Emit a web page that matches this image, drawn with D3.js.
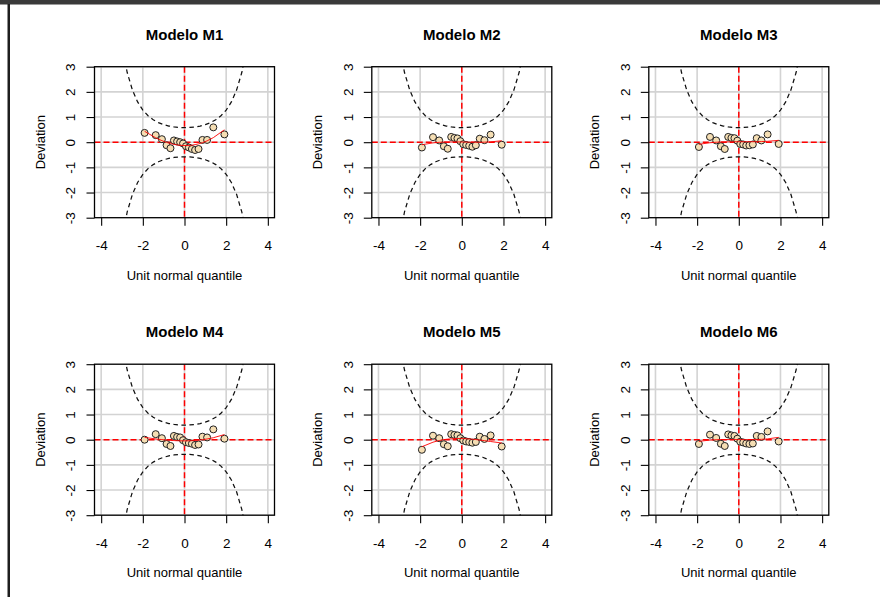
<!DOCTYPE html>
<html>
<head>
<meta charset="utf-8">
<script src="https://cdn.jsdelivr.net/npm/d3@7"></script>
<style>
  body { margin: 0; background: #fff; }
  text { font-family: "Liberation Sans", Arial, sans-serif; fill: #000; }
</style>
</head>
<body>
<svg width="880" height="597"></svg>
<script>
// unit normal quantiles of the 18 residuals (x of every worm point)
var quantiles = [-1.915, -1.383, -1.085, -0.861, -0.674, -0.508, -0.355, -0.210, -0.070,
                  0.070, 0.210, 0.355, 0.508, 0.674, 0.861, 1.085, 1.383, 1.915];

// deviations
var devM1 = [0.37, 0.28, 0.12, -0.12, -0.24, 0.07, 0.03, 0.00, -0.05, -0.16, -0.21, -0.27, -0.31, -0.27, 0.09, 0.09, 0.59, 0.31];
var devM2 = [-0.21, 0.20, 0.07, -0.16, -0.26, 0.21, 0.17, 0.15, 0.04, -0.08, -0.11, -0.14, -0.18, -0.12, 0.14, 0.08, 0.30, -0.10];
var devM3 = [-0.19, 0.21, 0.07, -0.16, -0.27, 0.21, 0.17, 0.16, 0.06, -0.07, -0.09, -0.13, -0.12, -0.09, 0.16, 0.07, 0.31, -0.07];
var devM4 = [0.00, 0.22, 0.06, -0.17, -0.25, 0.15, 0.11, 0.09, -0.02, -0.10, -0.13, -0.16, -0.21, -0.19, 0.12, 0.09, 0.41, 0.04];
var devM5 = [-0.40, 0.16, 0.06, -0.18, -0.26, 0.22, 0.19, 0.17, 0.06, -0.03, -0.07, -0.09, -0.12, -0.09, 0.12, 0.03, 0.17, -0.27];
var devM6 = [-0.17, 0.20, 0.07, -0.16, -0.25, 0.21, 0.17, 0.15, 0.04, -0.08, -0.11, -0.15, -0.17, -0.15, 0.15, 0.11, 0.33, -0.07];

var titles = ["Modelo M1", "Modelo M2", "Modelo M3", "Modelo M4", "Modelo M5", "Modelo M6"];
var deviations = [devM1, devM2, devM3, devM4, devM5, devM6];

// 95% worm plot bands (n = 18)
var bandZ = [-3, -2.75, -2.5, -2.25, -2, -1.75, -1.5, -1.25, -1, -0.75, -0.5, -0.25, 0,
             0.25, 0.5, 0.75, 1, 1.25, 1.5, 1.75, 2, 2.25, 2.5, 2.75, 3];
var bandUpper = [3.83, 2.769, 2.071, 1.599, 1.276, 1.050, 0.891, 0.777, 0.698, 0.642, 0.606, 0.586, 0.579,
                 0.586, 0.606, 0.642, 0.698, 0.777, 0.891, 1.050, 1.276, 1.599, 2.071, 2.769, 3.83];
var bandLower = [-3.83, -2.769, -2.071, -1.599, -1.276, -1.050, -0.891, -0.777, -0.698, -0.642, -0.606, -0.586, -0.579,
                 -0.586, -0.606, -0.642, -0.698, -0.777, -0.891, -1.050, -1.276, -1.599, -2.071, -2.769, -3.83];

var xTicks = [-4, -2, 0, 2, 4];
var yTicks = [-3, -2, -1, 0, 1, 2, 3];

var svg = d3.select("svg");

// window frame
svg.append("rect").attr("x", 0).attr("y", 0).attr("width", 880).attr("height", 597).attr("fill", "#fff");
svg.append("rect").attr("x", 0).attr("y", 0).attr("width", 880).attr("height", 4).attr("fill", "#3a3a3a");
svg.append("rect").attr("x", 0).attr("y", 4).attr("width", 880).attr("height", 1).attr("fill", "#9a9a9a");
svg.append("rect").attr("x", 7.5).attr("y", 4).attr("width", 2.5).attr("height", 593).attr("fill", "#1e1e1e");

var colLeft = [94.5, 371.8, 648.8],
    rowTop = [66.7, 364.2],
    boxW = 180,
    boxH = 151;

// cubic least squares fit, as the worm plot does
function cubicFit(xs, ys) {
  var A = [[0,0,0,0],[0,0,0,0],[0,0,0,0],[0,0,0,0]], b = [0,0,0,0];
  xs.forEach(function (x, k) {
    var p = [1, x, x * x, x * x * x];
    for (var i = 0; i < 4; i++) {
      b[i] += p[i] * ys[k];
      for (var j = 0; j < 4; j++) A[i][j] += p[i] * p[j];
    }
  });
  for (var c = 0; c < 4; c++) {
    for (var r = c + 1; r < 4; r++) {
      var f = A[r][c] / A[c][c];
      for (var j = c; j < 4; j++) A[r][j] -= f * A[c][j];
      b[r] -= f * b[c];
    }
  }
  var co = [0,0,0,0];
  for (var i = 3; i >= 0; i--) {
    var s = b[i];
    for (var j = i + 1; j < 4; j++) s -= A[i][j] * co[j];
    co[i] = s / A[i][i];
  }
  return xs.map(function (x) { return co[0] + co[1] * x + co[2] * x * x + co[3] * x * x * x; });
}

deviations.forEach(function (dev, idx) {
  var left = colLeft[idx % 3], top = rowTop[Math.floor(idx / 3)];
  var x = d3.scaleLinear().domain([-4.32, 4.32]).range([left, left + boxW]);
  var y = d3.scaleLinear().domain([-3, 3]).range([top + boxH, top]);
  var g = svg.append("g");

  var clipId = "clip" + idx;
  svg.append("clipPath").attr("id", clipId)
    .append("rect").attr("x", left).attr("y", top).attr("width", boxW).attr("height", boxH);
  var inner = g.append("g").attr("clip-path", "url(#" + clipId + ")");

  // grid
  inner.selectAll(".gx").data(xTicks).enter().append("line")
    .attr("x1", function (d) { return x(d); }).attr("x2", function (d) { return x(d); })
    .attr("y1", top).attr("y2", top + boxH)
    .attr("stroke", "#d3d3d3").attr("stroke-width", 1.6);
  inner.selectAll(".gy").data(yTicks).enter().append("line")
    .attr("x1", left).attr("x2", left + boxW)
    .attr("y1", function (d) { return y(d); }).attr("y2", function (d) { return y(d); })
    .attr("stroke", "#d3d3d3").attr("stroke-width", 1.6);

  // reference lines
  inner.append("line").attr("x1", left).attr("x2", left + boxW).attr("y1", y(0)).attr("y2", y(0))
    .attr("stroke", "red").attr("stroke-width", 1.5).attr("stroke-dasharray", "6,3");
  inner.append("line").attr("x1", x(0)).attr("x2", x(0)).attr("y1", top).attr("y2", top + boxH)
    .attr("stroke", "red").attr("stroke-width", 1.5).attr("stroke-dasharray", "6,3");

  // confidence bands
  var band = d3.line().x(function (d) { return x(d[0]); }).y(function (d) { return y(d[1]); });
  [bandUpper, bandLower].forEach(function (b) {
    inner.append("path").datum(d3.zip(bandZ, b)).attr("d", band)
      .attr("fill", "none").attr("stroke", "#111").attr("stroke-width", 1.25)
      .attr("stroke-dasharray", "4.5,3.5");
  });

  // points
  var pts = d3.zip(quantiles, dev);
  inner.selectAll("circle").data(pts).enter().append("circle")
    .attr("cx", function (d) { return x(d[0]); })
    .attr("cy", function (d) { return y(d[1]); })
    .attr("r", 3.5)
    .attr("fill", "#f5deb3").attr("stroke", "#222").attr("stroke-width", 1);

  // fitted cubic
  var fit = cubicFit(quantiles, dev);
  inner.append("path").datum(d3.zip(quantiles, fit)).attr("d", band)
    .attr("fill", "none").attr("stroke", "red").attr("stroke-width", 0.9);

  // box
  g.append("rect").attr("x", left).attr("y", top).attr("width", boxW).attr("height", boxH)
    .attr("fill", "none").attr("stroke", "#000").attr("stroke-width", 1.3);

  // axes
  var ax = g.append("g").attr("transform", "translate(0," + (top + boxH) + ")")
    .call(d3.axisBottom(x).tickValues(xTicks).tickSize(8).tickPadding(15).tickFormat(d3.format("d")));
  ax.select(".domain").remove();
  ax.selectAll("line").attr("stroke", "#000").attr("stroke-width", 1.1);
  ax.selectAll("text").attr("font-size", 13.5).attr("font-family", "Liberation Sans, Arial, sans-serif")
    .text(function (d) { return d < 0 ? "-" + Math.abs(d) : d; });

  var ay = g.append("g").attr("transform", "translate(" + left + ",0)")
    .call(d3.axisLeft(y).tickValues(yTicks).tickSize(8).tickFormat(d3.format("d")));
  ay.select(".domain").remove();
  ay.selectAll("line").attr("stroke", "#000").attr("stroke-width", 1.1);
  ay.selectAll("text").attr("font-size", 13.5).attr("font-family", "Liberation Sans, Arial, sans-serif")
    .attr("text-anchor", "middle").attr("transform", "rotate(-90)")
    .attr("x", 0).attr("y", -24).attr("dy", "0.35em")
    .text(function (d) { return d < 0 ? "-" + Math.abs(d) : d; });

  // labels
  g.append("text").attr("x", left + boxW / 2).attr("y", top - 27)
    .attr("text-anchor", "middle").attr("font-size", 15).attr("font-weight", "bold")
    .text(titles[idx]);
  g.append("text").attr("x", left + boxW / 2).attr("y", top + boxH + 62)
    .attr("text-anchor", "middle").attr("font-size", 13)
    .text("Unit normal quantile");
  g.append("text")
    .attr("transform", "translate(" + (left - 50) + "," + (top + boxH / 2) + ") rotate(-90)")
    .attr("text-anchor", "middle").attr("font-size", 13)
    .text("Deviation");
});
</script>
</body>
</html>
